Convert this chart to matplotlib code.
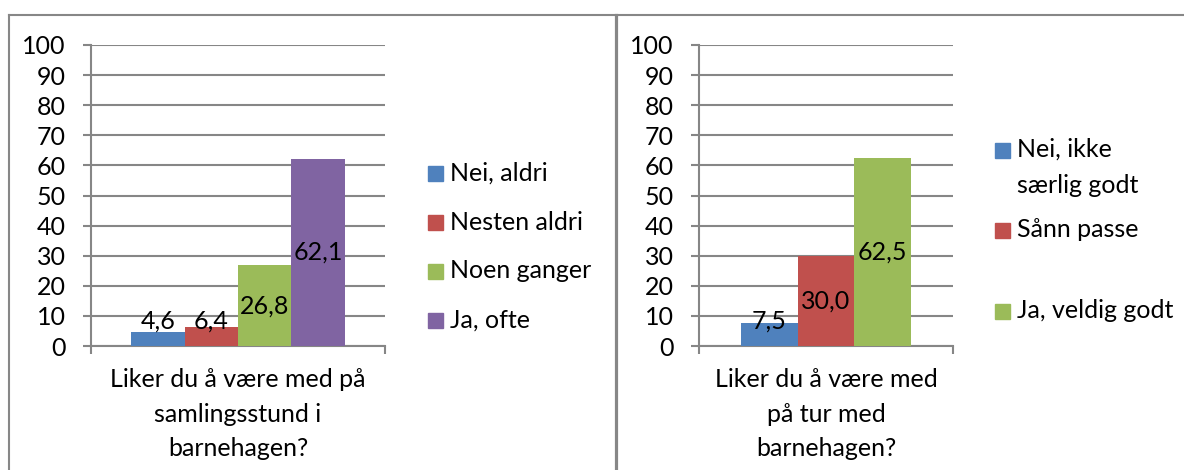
import matplotlib
matplotlib.use("Agg")
import matplotlib.pyplot as plt
from matplotlib.patches import Rectangle
from matplotlib.lines import Line2D

plt.rcParams['font.family'] = ['Lato', 'DejaVu Sans']

# ---------------- data ----------------
left_series = ["Nei, aldri", "Nesten aldri", "Noen ganger", "Ja, ofte"]
left_values = [4.6, 6.4, 26.8, 62.1]
left_category = "Liker du å være med på\nsamlingsstund i\nbarnehagen?"

right_series = ["Nei, ikke\nsærlig godt", "Sånn passe", "Ja, veldig godt"]
right_values = [7.5, 30.0, 62.5]
right_category = "Liker du å være med\npå tur med\nbarnehagen?"

y_ticks = [0, 10, 20, 30, 40, 50, 60, 70, 80, 90, 100]

left_colors = ["#4F81BD", "#C0504D", "#9BBB59", "#8064A2"]
right_colors = ["#4F81BD", "#C0504D", "#9BBB59"]

# ---------------- layout helpers ----------------
W, H = 1184, 470
FS = 18
GRID = "#868686"
fig = plt.figure(figsize=(W / 100, H / 100), dpi=100)


def fx(px):
    return px / W


def fy(py):
    return 1 - py / H


def panel(x0, x1, names, values, colors, category, leg_x, leg_y):
    y0, y100 = 346, 45
    ax = fig.add_axes([fx(x0), fy(y0), fx(x1 - x0), (y0 - y100) / H])
    n = len(values)
    xs = list(range(n))
    ax.bar(xs, values, width=1.0, color=colors, zorder=3)
    ax.set_xlim(-0.5 - 0.75, n - 0.5 + 0.75)
    ax.set_ylim(0, 100)
    ax.set_yticks(y_ticks)
    ax.set_yticklabels([str(t) for t in y_ticks], fontsize=FS)
    ax.yaxis.grid(True, color=GRID, linewidth=1.5, zorder=0)
    ax.set_axisbelow(True)
    ax.tick_params(axis='y', length=5.8, width=1.5, color=GRID, pad=12.5,
                   direction='out')
    xl = ax.get_xlim()
    ax.set_xticks([xl[0], xl[1]])
    ax.set_xticklabels(["", ""])
    ax.tick_params(axis='x', length=5.8, width=1.5, color=GRID, direction='out')
    for s in ['top', 'right']:
        ax.spines[s].set_visible(False)
    for s in ['left', 'bottom']:
        ax.spines[s].set_color(GRID)
        ax.spines[s].set_linewidth(1.5)
    for x, v in zip(xs, values):
        ax.text(x, max(v / 2, 8.3), f"{v:.1f}".replace('.', ','),
                ha='center', va='center', fontsize=FS, color='black', zorder=4)
    ax.annotate(category, xy=((n - 1) / 2, 0), xycoords='data',
                xytext=(0, -(414 - 346) * 0.72), textcoords='offset points',
                ha='center', va='center', fontsize=FS, linespacing=1.6,
                annotation_clip=False)
    # legend
    for name, c, yc in zip(names, colors, leg_y):
        first_line_center = yc[0]
        fig.patches.append(Rectangle((fx(leg_x), fy(first_line_center + 7.5)),
                                     fx(15), 15 / H, color=c,
                                     transform=fig.transFigure))
        fig.text(fx(leg_x + 22), fy(yc[1]), name, ha='left', va='center',
                 fontsize=FS, linespacing=1.7)
    return ax


panel(91, 385, left_series, left_values, left_colors, left_category, 428,
      [(173, 173), (222, 222), (271, 271), (320, 320)])
panel(699, 953, right_series, right_values, right_colors, right_category, 995,
      [(150.5, 167.5), (230, 230), (311, 311)])

# panel borders
BORDER = "#878787"
fig.add_artist(Line2D([fx(9), fx(1184)], [fy(15), fy(15)], color=BORDER,
                      linewidth=1.5, transform=fig.transFigure))
fig.add_artist(Line2D([fx(9), fx(9)], [fy(15), fy(470)], color=BORDER,
                      linewidth=1.5, transform=fig.transFigure))
fig.add_artist(Line2D([fx(615.8), fx(615.8)], [fy(15), fy(470)], color=BORDER,
                      linewidth=2.3, transform=fig.transFigure))

fig.savefig("out.png", dpi=100)
